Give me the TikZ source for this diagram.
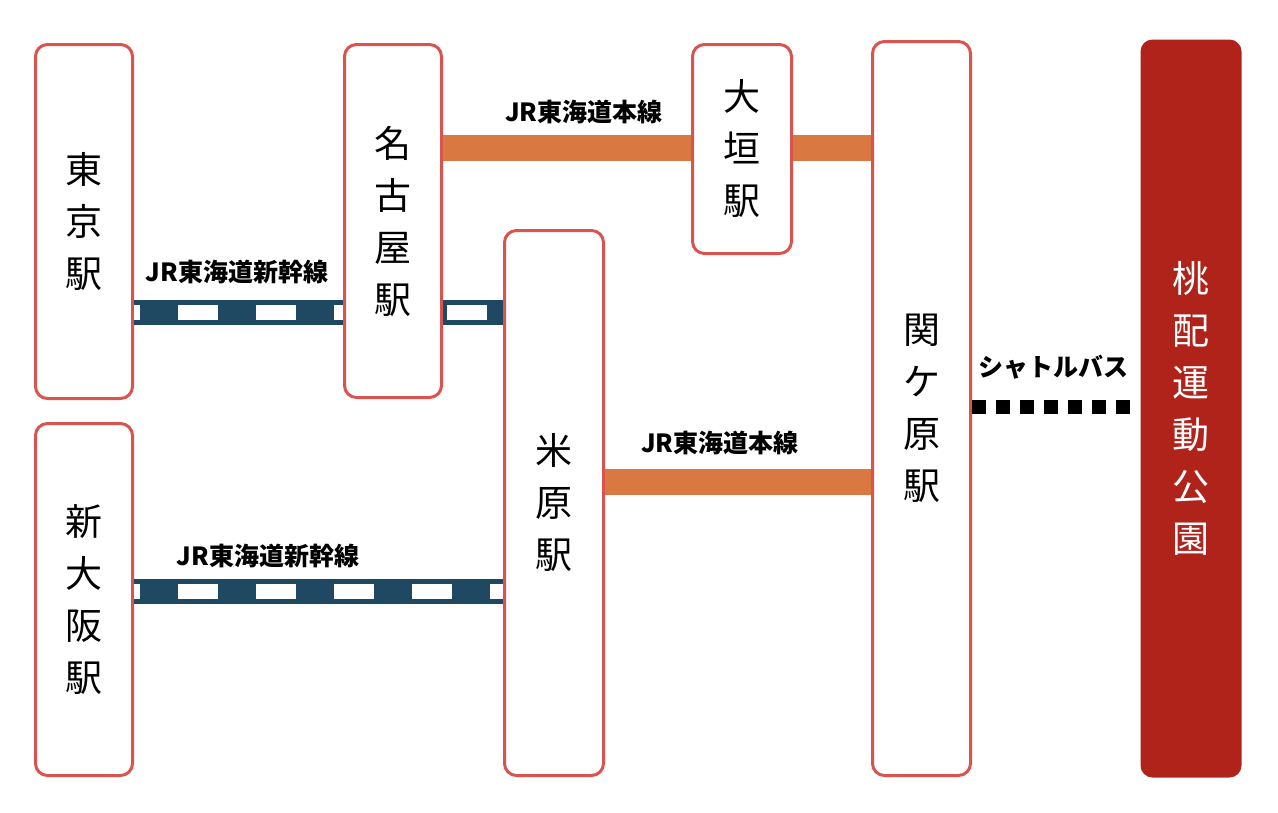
\documentclass[tikz,border=0pt]{standalone}
\usepackage{fontspec}
\newfontfamily\cjk{Noto Sans CJK JP}
\definecolor{boxred}{HTML}{D9534F}
\definecolor{parkred}{HTML}{B0231A}
\definecolor{shin}{HTML}{1F4863}
\definecolor{honsen}{HTML}{D97840}
\begin{document}
\begin{tikzpicture}[x=1pt,y=-1pt,
  st/.style={draw=boxred,line width=3pt,rounded corners=12pt,fill=white,inner sep=0pt,align=center,font=\cjk\fontsize{37}{52}\selectfont,anchor=north west},
  lbl/.style={font=\cjk\bfseries\fontsize{25}{28}\selectfont},
  hon/.style={honsen,line width=26pt},
  shinb/.style={shin,line width=25pt},
  shinw/.style={white,line width=15pt,dash pattern=on 40pt off 38pt}]
\useasboundingbox (0,0) rectangle (1278,812);
\node[st,minimum width=97pt,minimum height=354pt] (tokyo) at (34,43) {東\\京\\駅};
\node[st,minimum width=97pt,minimum height=352pt] (osaka) at (34,422) {新\\大\\阪\\駅};
\node[st,minimum width=97pt,minimum height=353pt] (nagoya) at (343,43) {名\\古\\屋\\駅};
\node[st,minimum width=99pt,minimum height=545pt] (maibara) at (503,229) {米\\原\\駅};
\node[st,minimum width=99pt,minimum height=209pt] (ogaki) at (691,43) {大\\垣\\駅};
\node[st,minimum width=98pt,minimum height=734pt] (seki) at (871,40) {関\\ケ\\原\\駅};
\node[st,draw=none,fill=parkred,text=white,minimum width=101pt,minimum height=738pt] (park) at (1139,38) {桃\\配\\運\\動\\公\\園};
% shinkansen
\draw[shinb] (tokyo.east |- 0,312) -- (nagoya.west |- 0,312);
\draw[shinw,dash phase=-44pt] (tokyo.east |- 0,312) -- (nagoya.west |- 0,312);
\draw[shinb] (nagoya.east |- 0,312) -- (maibara.west |- 0,312);
\draw[shinw,dash phase=-4pt] (nagoya.east |- 0,312) -- (maibara.west |- 0,312);
\draw[shinb] (osaka.east |- 0,591) -- (maibara.west |- 0,591);
\draw[shinw,dash phase=-44pt] (osaka.east |- 0,591) -- (maibara.west |- 0,591);
% honsen
\draw[hon] (nagoya.east |- 0,148) -- (ogaki.west |- 0,148);
\draw[hon] (ogaki.east |- 0,148) -- (seki.west |- 0,148);
\draw[hon] (maibara.east |- 0,482) -- (seki.west |- 0,482);
% shuttle
\draw[black,line width=14pt,dash pattern=on 14pt off 10pt] (seki.east |- 0,407) -- (park.west |- 0,407);
% labels
\node[lbl] (l1) at (584,112) {JR東海道本線};
\node[lbl] (l2) at (237,272) {JR東海道新幹線};
\node[lbl] (l3) at (268,556) {JR東海道新幹線};
\node[lbl] (l4) at (720,443) {JR東海道本線};
\node[lbl] (l5) at (1053,367) {シャトルバス};
\end{tikzpicture}
\end{document}
